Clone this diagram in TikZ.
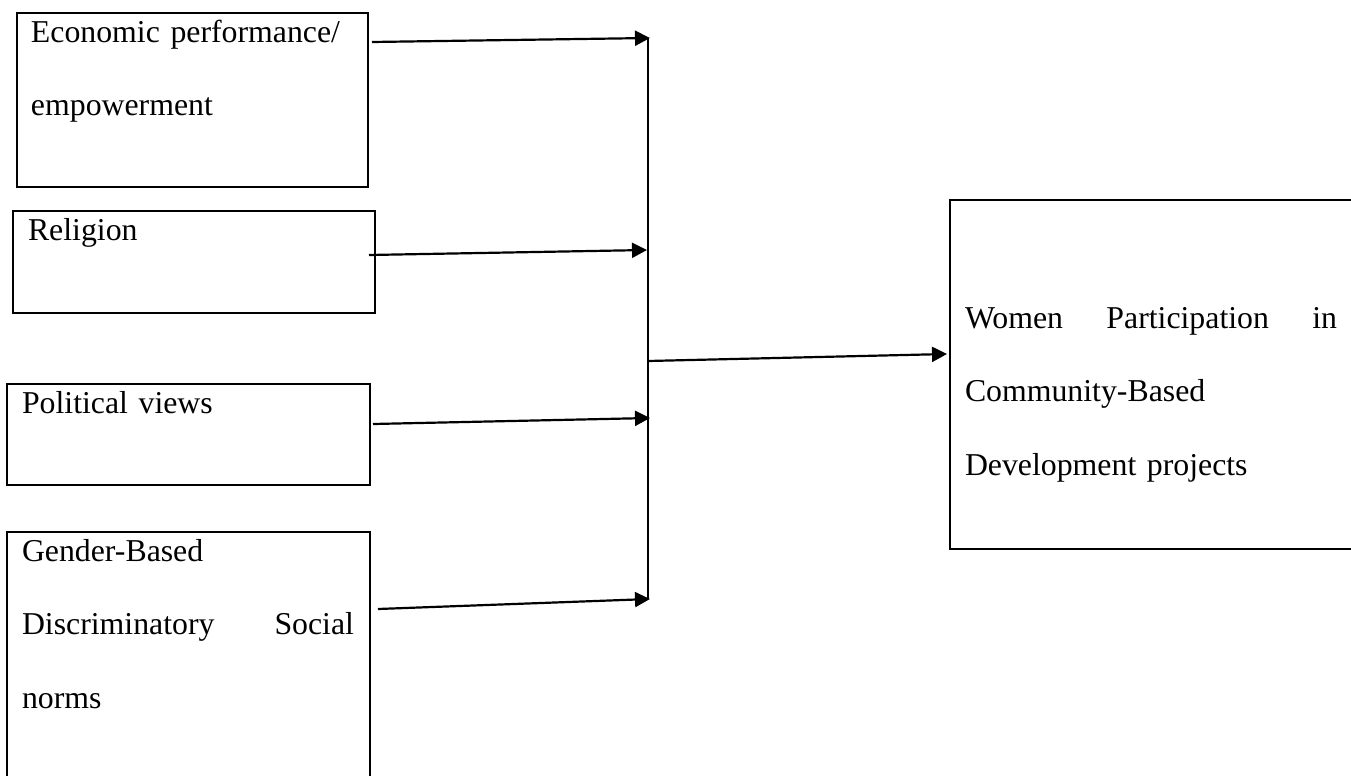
\documentclass[tikz,border=0pt]{standalone}
\usepackage{fontspec}
\setmainfont{Liberation Serif}
\usetikzlibrary{calc}
\usetikzlibrary{arrows.meta}

\tikzset{
  factor/.style={draw, line width=1pt, anchor=north west, align=left,
    inner xsep=7.5pt, inner ysep=0pt, text height=14.5pt,
    font=\fontsize{15.9pt}{36.75pt}\selectfont},
  link/.style={line width=1.1pt, -{Triangle[length=7.5pt,width=7.5pt]}},
}

\begin{document}
\begin{tikzpicture}[x=0.5pt, y=-0.5pt]
        \useasboundingbox (0,0) rectangle (1351,776);

        % factors
        \node[factor, inner xsep=7pt, text width=161.5pt, text depth=72.5pt] (econ) at (16,12)
            {Economic performance/\\ empowerment};
        \node[factor, text width=166pt, text depth=36.5pt] (relig) at (12,210) {Religion};
        \node[factor, text width=166.5pt, text depth=36pt] (polit) at (6,383) {Political views};
        \node[factor, text width=166.5pt, text depth=125pt] (gender) at (6,531)
            {Gender-Based\\ \makebox[166pt][l]{Discriminatory\hfill Social}\\ norms};

        % outcome
        \node[factor, text width=220pt, text height=64pt, text depth=110.5pt] (women) at (949,199)
            {\makebox[186pt][l]{Women\hfill Participation\hfill in}\\ Community-Based\\ Development projects};

        % bus
        \coordinate (bustop) at (648,38);
        \coordinate (busbot) at (648,599);
        \coordinate (busout) at (648,361);
        \draw[line width=0.7pt] (bustop) -- (busbot);

        \draw[link] ($(econ.north east)+(3,30)$) -- (650,38);
        \draw[link] ($(relig.north east)+(-7,45)$) -- (647,250);
        \draw[link] ($(polit.north east)+(2,41)$) -- (650,418);
        \draw[link] ($(gender.north east)+(7,78)$) -- (650,599);
        \draw[link] (busout) -- ($(women.north west)+(-2,155)$);
    \end{tikzpicture}
\end{document}
